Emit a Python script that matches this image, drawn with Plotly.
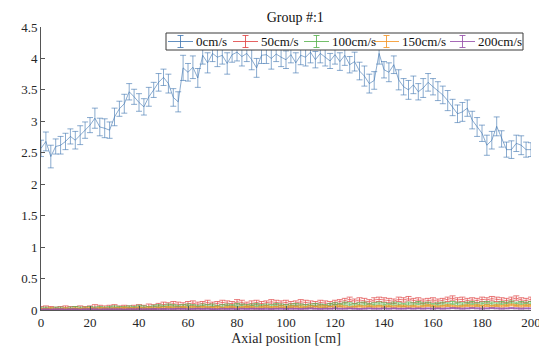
import plotly.graph_objects as go

x_cm = list(range(0, 201, 2))

v0 = [2.57, 2.68, 2.44, 2.60, 2.62, 2.68, 2.76, 2.70, 2.78, 2.86,
      2.94, 3.05, 2.91, 2.89, 2.86, 3.07, 3.20, 3.28, 3.47, 3.39,
      3.30, 3.23, 3.39, 3.50, 3.62, 3.70, 3.60, 3.38, 3.31, 3.85,
      3.78, 3.86, 3.69, 4.05, 3.93, 4.08, 4.02, 4.05, 3.92, 4.06,
      4.10, 4.03, 4.08, 3.98, 3.85, 4.05, 4.06, 4.00, 4.07, 4.02,
      3.98, 4.06, 3.93, 4.05, 4.02, 4.10, 3.98, 4.08, 4.02, 3.96,
      4.06, 3.95, 4.05, 3.90, 3.95, 3.80, 3.72, 3.60, 3.65, 4.08,
      3.82, 3.78, 3.90, 3.66, 3.55, 3.50, 3.58, 3.47, 3.53, 3.62,
      3.55, 3.48, 3.42, 3.33, 3.22, 3.12, 3.15, 3.21, 3.02, 2.91,
      2.81, 2.62, 2.70, 2.92, 2.72, 2.55, 2.55, 2.65, 2.62, 2.55,
      2.55]
e0 = [0.13, 0.15, 0.18, 0.12, 0.14, 0.13, 0.12, 0.14, 0.15, 0.13,
      0.12, 0.16, 0.14, 0.15, 0.13, 0.14, 0.12, 0.15, 0.13, 0.12,
      0.14, 0.13, 0.15, 0.12, 0.14, 0.13, 0.15, 0.14, 0.16, 0.20,
      0.14, 0.18, 0.15, 0.14, 0.16, 0.13, 0.15, 0.14, 0.17, 0.12,
      0.14, 0.15, 0.13, 0.16, 0.15, 0.13, 0.14, 0.17, 0.12, 0.15,
      0.14, 0.13, 0.16, 0.15, 0.14, 0.17, 0.13, 0.15, 0.14, 0.12,
      0.15, 0.14, 0.16, 0.13, 0.15, 0.14, 0.16, 0.15, 0.14, 0.17,
      0.13, 0.15, 0.14, 0.16, 0.13, 0.15, 0.14, 0.13, 0.15, 0.14,
      0.13, 0.15, 0.14, 0.16, 0.13, 0.14, 0.15, 0.13, 0.14, 0.15,
      0.13, 0.16, 0.14, 0.15, 0.13, 0.12, 0.14, 0.13, 0.15, 0.12,
      0.11]

v50 = [0.02, 0.03, 0.02, 0.01, 0.02, 0.03, 0.02, 0.02, 0.03, 0.02,
       0.03, 0.05, 0.04, 0.03, 0.04, 0.05, 0.03, 0.04, 0.03, 0.04,
       0.05, 0.04, 0.06, 0.05, 0.07, 0.09, 0.08, 0.10, 0.09, 0.08,
       0.10, 0.11, 0.09, 0.10, 0.12, 0.09, 0.10, 0.12, 0.11, 0.10,
       0.13, 0.12, 0.09, 0.11, 0.12, 0.10, 0.11, 0.13, 0.12, 0.11,
       0.12, 0.10, 0.11, 0.13, 0.12, 0.11, 0.10, 0.12, 0.11, 0.10,
       0.12, 0.13, 0.15, 0.17, 0.14, 0.16, 0.15, 0.13, 0.16, 0.17,
       0.16, 0.15, 0.14, 0.17, 0.16, 0.18, 0.15, 0.16, 0.14, 0.15,
       0.16, 0.14, 0.15, 0.17, 0.19, 0.16, 0.17, 0.15, 0.16, 0.15,
       0.17, 0.16, 0.18, 0.17, 0.16, 0.15, 0.17, 0.19, 0.16, 0.15,
       0.17]
v100 = [0.01, 0.02, 0.01, 0.02, 0.02, 0.01, 0.02, 0.03, 0.02, 0.02,
        0.03, 0.02, 0.03, 0.02, 0.03, 0.04, 0.03, 0.03, 0.04, 0.03,
        0.05, 0.04, 0.03, 0.05, 0.06, 0.05, 0.07, 0.06, 0.05, 0.06,
        0.07, 0.06, 0.05, 0.07, 0.06, 0.07, 0.05, 0.06, 0.07, 0.06,
        0.08, 0.07, 0.06, 0.07, 0.08, 0.06, 0.07, 0.06, 0.08, 0.07,
        0.06, 0.07, 0.08, 0.07, 0.06, 0.07, 0.08, 0.07, 0.06, 0.08,
        0.09, 0.08, 0.10, 0.09, 0.08, 0.09, 0.10, 0.08, 0.09, 0.10,
        0.09, 0.08, 0.10, 0.09, 0.08, 0.10, 0.09, 0.11, 0.09, 0.10,
        0.08, 0.09, 0.10, 0.09, 0.11, 0.10, 0.09, 0.10, 0.11, 0.09,
        0.10, 0.11, 0.10, 0.09, 0.11, 0.10, 0.12, 0.10, 0.11, 0.10,
        0.11]
v150 = [0.01, 0.01, 0.02, 0.01, 0.01, 0.02, 0.01, 0.02, 0.01, 0.02,
        0.02, 0.01, 0.02, 0.02, 0.01, 0.02, 0.02, 0.03, 0.02, 0.02,
        0.03, 0.02, 0.03, 0.02, 0.03, 0.03, 0.04, 0.03, 0.03, 0.04,
        0.03, 0.04, 0.03, 0.04, 0.04, 0.03, 0.04, 0.03, 0.04, 0.04,
        0.03, 0.04, 0.05, 0.04, 0.03, 0.04, 0.05, 0.04, 0.04, 0.05,
        0.04, 0.05, 0.04, 0.05, 0.04, 0.05, 0.04, 0.05, 0.05, 0.04,
        0.05, 0.06, 0.05, 0.04, 0.05, 0.06, 0.05, 0.06, 0.05, 0.06,
        0.05, 0.06, 0.05, 0.06, 0.06, 0.05, 0.06, 0.05, 0.06, 0.07,
        0.06, 0.05, 0.06, 0.07, 0.06, 0.05, 0.06, 0.07, 0.06, 0.07,
        0.06, 0.07, 0.06, 0.07, 0.06, 0.07, 0.08, 0.07, 0.06, 0.07,
        0.07]
v200 = [0.005, 0.01, 0.005, 0.01, 0.01, 0.005, 0.01, 0.01, 0.005, 0.01,
        0.01, 0.01, 0.005, 0.01, 0.01, 0.01, 0.01, 0.005, 0.01, 0.01,
        0.01, 0.01, 0.01, 0.015, 0.01, 0.015, 0.01, 0.015, 0.02, 0.015,
        0.01, 0.015, 0.02, 0.015, 0.02, 0.015, 0.01, 0.02, 0.015, 0.02,
        0.015, 0.02, 0.015, 0.02, 0.02, 0.015, 0.02, 0.015, 0.02, 0.02,
        0.015, 0.02, 0.02, 0.015, 0.02, 0.025, 0.02, 0.015, 0.02, 0.02,
        0.025, 0.02, 0.02, 0.025, 0.02, 0.015, 0.02, 0.025, 0.02, 0.02,
        0.025, 0.02, 0.025, 0.02, 0.02, 0.025, 0.02, 0.025, 0.02, 0.025,
        0.02, 0.025, 0.02, 0.025, 0.03, 0.025, 0.02, 0.025, 0.03, 0.025,
        0.02, 0.025, 0.03, 0.025, 0.02, 0.025, 0.03, 0.025, 0.02, 0.025,
        0.025]
err50 = 0.035
err100 = 0.025
err150 = 0.015
err200 = 0.008

series_names = ["0cm/s", "50cm/s", "100cm/s", "150cm/s", "200cm/s"]
series_vals = [v0, v50, v100, v150, v200]
series_errs = [e0, [err50] * len(x_cm), [err100] * len(x_cm),
               [err150] * len(x_cm), [err200] * len(x_cm)]
colors = ["rgba(60,115,175,0.6)", "rgba(225,70,70,0.7)", "rgba(90,180,80,0.7)",
          "rgba(245,150,40,0.7)", "rgba(150,80,170,0.7)"]
legend_colors = ["rgba(60,115,175,0.8)", "rgba(225,70,70,0.85)", "rgba(90,180,80,0.85)",
                 "rgba(245,150,40,0.85)", "rgba(150,80,170,0.85)"]

# layout geometry (window pixels) for the plot box and the legend box
W, H = 539, 339            # figure size (page body adds an 8px offset)
OFF = 8
PL, PR, PT, PB = 41, 531, 27, 310   # plot area in window pixels
LEG_BOX = (166, 523, 33, 50)
LEG_LINE_START = [168, 233, 304, 374, 450]
LEG_LINE_LEN = 25


def px2x(px):
    return (px - PL) / (PR - PL)


def py2y(py):
    return (PB - py) / (PB - PT)


fig = go.Figure()
for name, vals, errs, c in zip(series_names, series_vals, series_errs, colors):
    fig.add_trace(go.Scatter(
        x=x_cm, y=vals, name=name, mode="lines",
        line=dict(color=c, width=1),
        error_y=dict(type="data", array=errs, visible=True,
                     color=c, thickness=1, width=3),
    ))

font_family = "Liberation Serif, Times New Roman, DejaVu Serif, serif"

shapes = []
annotations = []
bx0, bx1, by0, by1 = LEG_BOX
shapes.append(dict(type="rect", xref="paper", yref="paper", layer="above",
                   x0=px2x(bx0), x1=px2x(bx1), y0=py2y(by1), y1=py2y(by0),
                   fillcolor="white", line=dict(color="#3a3a3a", width=1)))
ymid = (by0 + by1) / 2
for name, c, xs in zip(series_names, legend_colors, LEG_LINE_START):
    xc = xs + LEG_LINE_LEN / 2
    shapes.append(dict(type="line", xref="paper", yref="paper", layer="above",
                       x0=px2x(xs), x1=px2x(xs + LEG_LINE_LEN),
                       y0=py2y(ymid), y1=py2y(ymid), line=dict(color=c, width=1)))
    shapes.append(dict(type="line", xref="paper", yref="paper", layer="above",
                       x0=px2x(xc), x1=px2x(xc), y0=py2y(ymid - 6), y1=py2y(ymid + 6),
                       line=dict(color=c, width=1)))
    for dy in (-6, 6):
        shapes.append(dict(type="line", xref="paper", yref="paper", layer="above",
                           x0=px2x(xc - 3), x1=px2x(xc + 3),
                           y0=py2y(ymid + dy), y1=py2y(ymid + dy),
                           line=dict(color=c, width=1)))
    annotations.append(dict(text=name, xref="paper", yref="paper", showarrow=False,
                            x=px2x(xs + LEG_LINE_LEN + 1), y=py2y(ymid),
                            xanchor="left", yanchor="middle",
                            font=dict(family=font_family, size=13, color="#111")))

fig.update_layout(
    width=W, height=H,
    margin=dict(l=PL - OFF, r=W + OFF - PR, t=PT - OFF, b=H + OFF - PB),
    paper_bgcolor="white", plot_bgcolor="white",
    font=dict(family=font_family, size=13, color="#262626"),
    title=dict(text="Group #:1", x=0.533, xanchor="center", y=0.972,
               yanchor="middle", font=dict(family=font_family, size=14, color="#111")),
    showlegend=False,
    shapes=shapes,
    annotations=annotations,
    xaxis=dict(range=[0, 200], dtick=20, ticks="inside", ticklen=4,
               showline=True, linecolor="#555", linewidth=1, showgrid=False,
               zeroline=False, tickcolor="#555", automargin=False,
               title=dict(text="Axial position [cm]", standoff=4,
                          font=dict(family=font_family, size=14, color="#262626"))),
    yaxis=dict(range=[0, 4.5], dtick=0.5, ticks="inside", ticklen=4,
               showline=True, linecolor="#555", linewidth=1, showgrid=False,
               zeroline=False, tickcolor="#555", automargin=False),
)

fig.write_html("out.html")
